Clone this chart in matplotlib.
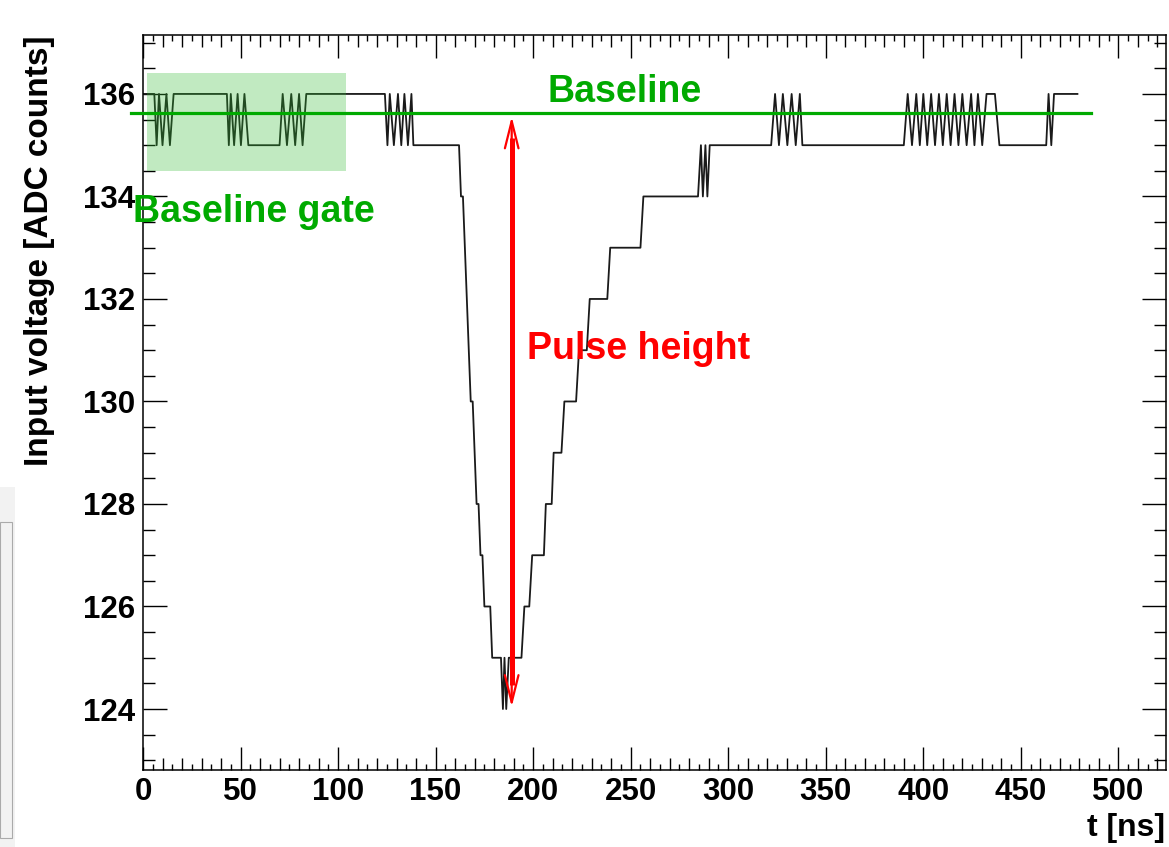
import matplotlib
matplotlib.use("Agg")
import matplotlib.pyplot as plt
import numpy as np
from matplotlib.patches import Rectangle

plt.rcParams['font.family'] = ['Liberation Sans', 'DejaVu Sans']
plt.rcParams['font.weight'] = 'bold'

# waveform vertices (t in ns, ADC counts)
t_ns = [0, 5.8, 7.0, 8.2, 10.0, 12.0, 13.8, 15.7,
        43.0, 44.0, 45.0, 46.7, 48.5, 50.2, 52.0, 54.0,
        70.0, 71.6, 73.8, 76.0, 78.0, 80.0, 81.8, 83.7,
        124.0, 125.3, 126.5, 128.6, 130.7, 132.4, 134.0, 135.8, 137.6, 138.6,
        162, 163, 164, 165, 166, 167, 168, 169, 170, 171, 172, 173, 174, 175, 178, 179,
        183.5, 184.5, 185.3, 186.2, 187.5, 194, 195.5, 198, 199.5, 205.5, 206.5, 209.5,
        210.5, 214.5, 216, 222, 223.5, 227.5, 229, 238, 239.5, 255, 256.5, 284.5,
        286, 287, 288.3, 289.3, 290.5,
        322, 324, 326, 328, 330.3, 332.5, 334.6, 336.7, 338,
        390, 392, 394.2, 396.4, 398.2, 400, 402, 404, 406, 408, 410, 412, 414, 416,
        418, 420, 422.2, 424.5, 426.2, 428, 430.2, 432.4, 436.7, 439,
        463, 464.2, 465.6, 467, 479]
adc = [136, 136, 135, 136, 135, 136, 135, 136,
       136, 135, 136, 135, 136, 135, 136, 135,
       135, 136, 135, 136, 135, 136, 135, 136,
       136, 135, 136, 135, 136, 135, 136, 135, 136, 135,
       135, 134, 134, 133, 132, 131, 130, 130, 129, 128, 128, 127, 127, 126, 126, 125,
       125, 124, 125, 124, 125, 125, 126, 126, 127, 127, 128, 128,
       129, 129, 130, 130, 131, 131, 132, 132, 133, 133, 134, 134,
       135, 134, 135, 134, 135,
       135, 136, 135, 136, 135, 136, 135, 136, 135,
       135, 136, 135, 136, 135, 136, 135, 136, 135, 136, 135, 136, 135, 136,
       135, 136, 135, 136, 135, 136, 135, 136, 136, 135,
       135, 136, 135, 136, 136]

baseline = 135.63
baseline_span = (-6, 486)
gate_t = (1.8, 104)
gate_adc = (134.5, 136.4)
arrow_t = 189
arrow_adc = (124.04, 135.56)

fig = plt.figure(figsize=(11.69, 8.47), dpi=100)
W, H = 1169, 847
ax = fig.add_axes([143 / W, 1 - 770 / H, (1166 - 143) / W, (770 - 35) / H])

ax.plot(t_ns, adc, color='#1a1a1a', lw=1.3, zorder=2)

ax.add_patch(Rectangle((gate_t[0], gate_adc[0]), gate_t[1] - gate_t[0],
                       gate_adc[1] - gate_adc[0], facecolor='#33bb33',
                       alpha=0.3, edgecolor='none', zorder=3))
ax.plot(baseline_span, [baseline, baseline], color='#00aa00', lw=2.3,
        clip_on=False, zorder=4)

# pulse height arrow
ax.plot([arrow_t, arrow_t], [arrow_adc[0] + 0.42, arrow_adc[1] - 0.42],
        color='red', lw=3.6, solid_capstyle='butt', zorder=5)
ax.annotate('', xy=(arrow_t, arrow_adc[1]), xytext=(arrow_t, arrow_adc[0]),
            arrowprops=dict(arrowstyle='<->,head_length=1.4,head_width=0.35',
                            lw=1.6, color='red', shrinkA=0, shrinkB=0,
                            mutation_scale=14), zorder=5)

ax.text(207.5, 135.84, 'Baseline', color='#00aa00', fontsize=27,
        fontweight='bold', va='baseline', ha='left')
ax.text(-5.3, 133.50, 'Baseline gate', color='#00aa00', fontsize=27,
        fontweight='bold', va='baseline', ha='left', clip_on=False, zorder=6)
ax.text(196.7, 130.83, 'Pulse height', color='red', fontsize=27,
        fontweight='bold', va='baseline', ha='left')

ax.set_xlim(0, 524.4)
ax.set_ylim(122.81, 137.15)

ax.set_xticks(np.arange(0, 501, 50))
x_minor = [v for v in np.arange(0, 525, 5) if v % 50 != 0]
ax.set_xticks(x_minor, minor=True)
ax.set_yticks(np.arange(124, 137, 2))
ax.set_yticks(np.arange(123, 137.1, 0.5), minor=True)

ax.tick_params(axis='both', which='both', direction='in', top=True, right=True,
               width=1.0, labelsize=22.5)
ax.tick_params(axis='x', which='major', length=16.5, pad=5)
ax.tick_params(axis='x', which='minor', length=4.3)
ax.tick_params(axis='y', which='major', length=17, pad=5.5)
ax.tick_params(axis='y', which='minor', length=8.6)
for lab in ax.get_xticklabels() + ax.get_yticklabels():
    lab.set_fontweight('bold')

# medium ticks every 10 ns
for tk, loc in zip(ax.xaxis.get_minor_ticks(), ax.xaxis.get_minorticklocs()):
    if round(loc) % 10 == 0:
        tk.tick1line.set_markersize(8.6)
        tk.tick2line.set_markersize(8.6)

for sp in ax.spines.values():
    sp.set_linewidth(1.1)

ax.text(-0.1007, 1.0, 'Input voltage [ADC counts]', transform=ax.transAxes,
        rotation=90, ha='center', va='top', fontsize=24, fontweight='bold')
fig.text(1165 / W, 1 - 828 / H, 't [ns]', ha='right', va='center',
         fontsize=23, fontweight='bold')

# grey strip of the neighbouring panel at the left edge
fig.patches.append(Rectangle((0, 0), 15 / W, (847 - 487) / H, transform=fig.transFigure,
                             facecolor='#f2f2f2', edgecolor='none', zorder=0))
fig.patches.append(Rectangle((0, 9 / H), 12 / W, (838 - 522) / H, transform=fig.transFigure,
                             facecolor='none', edgecolor='#aaaaaa', lw=0.8, zorder=1))

fig.savefig('out.png', dpi=100)
